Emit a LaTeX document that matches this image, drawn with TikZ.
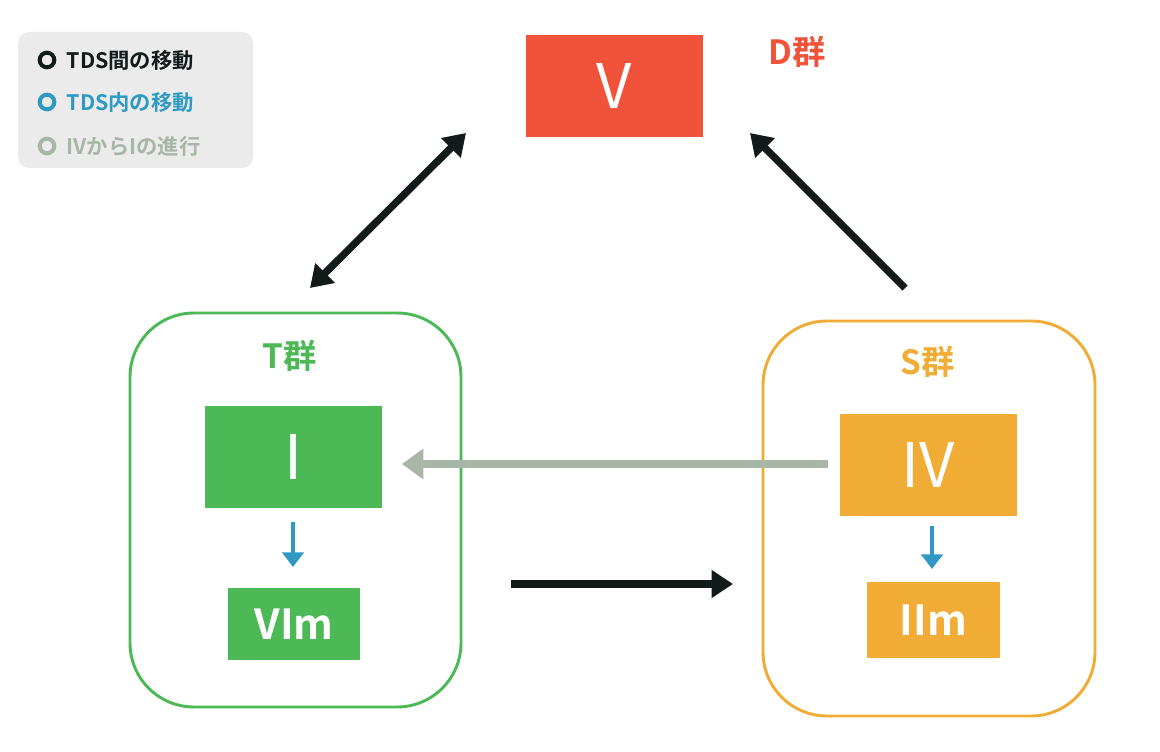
\documentclass[tikz,border=0pt]{standalone}
\usepackage{fontspec}
\setmainfont{Noto Sans CJK JP}[BoldFont={Noto Sans CJK JP Bold}]
\usetikzlibrary{arrows.meta}
\definecolor{cred}{HTML}{F0523A}
\definecolor{cgreen}{HTML}{4CB856}
\definecolor{corange}{HTML}{F0AC34}
\definecolor{cblue}{HTML}{2E9AC4}
\definecolor{cgray}{HTML}{A7B6A6}
\definecolor{cblack}{HTML}{121A1A}
\definecolor{clegend}{HTML}{EBEBEB}
\begin{document}
\begin{tikzpicture}[x=0.75pt,y=-0.75pt,
  chord/.style={fill=#1,text=white,inner sep=0,font=\bfseries},
  grp/.style={draw=#1,line width=2.2pt,rounded corners=48pt},
  glabel/.style={text=#1,font=\bfseries\fontsize{25}{25}\selectfont},
  bigarr/.style={draw=cblack,line width=5.5pt,-{Triangle[length=16pt,width=20pt]}},
  leg/.style={font=\bfseries\fontsize{16}{16}\selectfont,anchor=west,text=#1},
  dot/.style={circle,draw=#1,line width=3pt,minimum size=11pt,inner sep=0}]
\useasboundingbox (0,0) rectangle (1160,752);
% legend
\node[fill=clegend,rounded corners=8pt,minimum width=176pt,minimum height=102pt,inner sep=0] (legend) at (135.5,100) {};
\node[dot=cblack] (d1) at (47,60) {};
\node[leg=cblack] (l1) at (62,60) {TDS間の移動};
\node[dot=cblue] (d2) at (47,102) {};
\node[leg=cblue] (l2) at (62,102) {TDS内の移動};
\node[dot=cgray] (d3) at (47,146) {};
\node[leg=cgray] (l3) at (62,146) {IVからIの進行};
% groups
\draw[grp=cgreen] (130,313) rectangle (461,707);
\draw[grp=corange] (763,321) rectangle (1095,716);
\node[glabel=cgreen] (tl) at (290,356) {T群};
\node[glabel=corange] (sl) at (928,362) {S群};
\node[glabel=cred] (dl) at (797,52) {D群};
% chord boxes
\node[chord=cred,minimum width=133pt,minimum height=76pt,font=\fontsize{46}{46}\selectfont] (V) at (614.5,86) {V};
\node[chord=cgreen,minimum width=133pt,minimum height=76pt,font=\fontsize{46}{46}\selectfont] (I) at (293.5,457) {I};
\node[chord=corange,minimum width=133pt,minimum height=76pt,font=\fontsize{46}{46}\selectfont] (IV) at (928.5,465) {IV};
\node[chord=cgreen,minimum width=99pt,minimum height=54pt,font=\bfseries\fontsize{31}{31}\selectfont] (VIm) at (294,624) {VIm};
\node[chord=corange,minimum width=100pt,minimum height=57pt,font=\bfseries\fontsize{31}{31}\selectfont] (IIm) at (933.5,620) {IIm};
% connector endpoints
\coordinate (a1) at (466,133); \coordinate (a2) at (310,288);
\coordinate (b1) at (905,288); \coordinate (b2) at (750,133);
\coordinate (c1) at (511,584); \coordinate (c2) at (733,584);
\coordinate (g1) at (828,464); \coordinate (g2) at (402,464);
\coordinate (t1) at (293,522); \coordinate (t2) at (293,567);
\coordinate (s1) at (932,526); \coordinate (s2) at (932,569);
\draw[bigarr,{Triangle[length=16pt,width=20pt]}-{Triangle[length=16pt,width=20pt]}] (a1) -- (a2);
\draw[bigarr] (b1) -- (b2);
\draw[bigarr] (c1) -- (c2);
\draw[draw=cgray,line width=6pt,-{Triangle[length=16pt,width=22pt]}] (g1) -- (g2);
\draw[draw=cblue,line width=3.5pt,-{Triangle[length=11pt,width=16pt]}] (t1) -- (t2);
\draw[draw=cblue,line width=3.5pt,-{Triangle[length=11pt,width=16pt]}] (s1) -- (s2);
\end{tikzpicture}
\end{document}
